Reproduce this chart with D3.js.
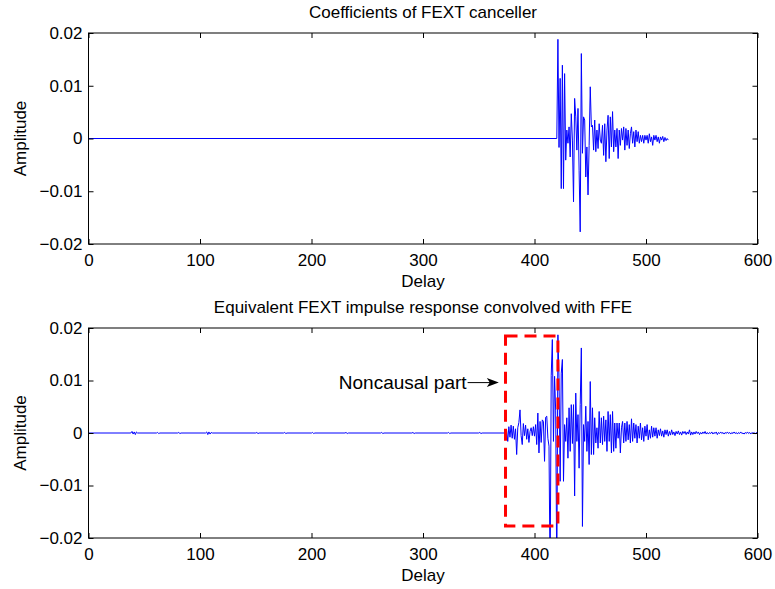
<!DOCTYPE html>
<html>
<head>
<meta charset="utf-8">
<script src="https://cdn.jsdelivr.net/npm/d3@7"></script>
<style>
  html, body { margin: 0; padding: 0; background: #fff; }
  svg { display: block; font-family: "Liberation Sans", Arial, Helvetica, sans-serif; }
</style>
</head>
<body>
<svg id="chart" width="775" height="589"></svg>
<script>
// ---------------- DATA ----------------
const delayTicks = [0, 100, 200, 300, 400, 500, 600];
const ampTicks = [-0.02, -0.01, 0, 0.01, 0.02];
const ampTickLabels = ["\u22120.02", "\u22120.01", "0", "0.01", "0.02"];
const titles = ["Coefficients of FEXT canceller", "Equivalent FEXT impulse response convolved with FFE"];
const xLabel = "Delay";
const yLabel = "Amplitude";

// Top: FEXT canceller coefficients (zero before first tap)
const fextZeroEnd = 420;
const fextStart = 421;
const fextCoeffs = [
  0.0188,-0.0017,0.0114,-0.0095,0.0139,-0.0095,0.0123,-0.0041,0.0016,-0.0009,
  0.0022,-0.0035,0.0047,-0.0003,-0.0120,0.0076,0.0041,-0.0022,0.0057,-0.0060,
  -0.0177,0.0161,-0.0028,0.0041,0.0035,-0.0073,-0.0016,-0.0107,-0.0013,0.0098,
  0.0022,0.0025,-0.0022,0.0035,-0.0025,0.0016,-0.0019,0.0028,-0.0003,-0.0009,
  0.0025,-0.0032,0.0028,-0.0044,0.0016,0.0044,-0.0038,0.0041,-0.0016,0.0051,
  -0.0025,0.0016,-0.0016,0.0019,-0.0038,0.0016,-0.0013,0.0019,-0.0003,0.0022,
  -0.0022,0.0019,-0.0013,0.0016,-0.0019,0.0009,0.0022,-0.0009,0.0013,-0.0016,
  0.0016,-0.0006,0.0013,-0.0009,0.0006,-0.0006,0.0006,-0.0009,0.0006,-0.0003,
  0.0006,-0.0009,0.0009,-0.0006,0.0003,-0.0013,0.0006,-0.0003,0.0006,-0.0006,
  0.0003,-0.0009,0.0003,-0.0003,0.0004,-0.0006,0.0002,-0.0004,0.0000,-0.0003
];

// Bottom: small ripples before the main response [delay, value]
const equivRipples = [
  [0,0],[38,0],[39,0.0003],[40,-0.0002],[41,0.0002],[42,-0.0003],[43,0.0002],[44,0],
  [61,0],[62,0.0001],[63,-0.0001],[64,0],[80,0],[81,0.0001],[82,-0.0001],[83,0],
  [105,0],[106,0.0002],[107,-0.0003],[108,0.0002],[109,-0.0002],[110,0.0001],[111,0],
  [150,0],[151,0.0001],[152,-0.0001],[153,0],[175,0],[176,0.0001],[177,-0.0001],[178,0],
  [200,0],[201,0.0001],[202,-0.0001],[203,0],[230,0],[231,0.0001],[232,-0.0001],[233,0],
  [262,0],[263,0.0001],[264,-0.0001],[265,0],[290,0],[291,0.0001],[292,-0.0001],[293,0],
  [322,0],[323,0.0001],[324,-0.0001],[325,0],[350,0],[351,0.0001],[352,-0.0001],[353,0],
  [374,0]
];
// Bottom: main response, one value per delay starting at 375
const equivStart = 375;
const equivResp = [
  0.0005,-0.0016,0.0012,-0.0008,0.0015,-0.0010,0.0013,-0.0012,0.0008,-0.0041,  // 375
  0.0010,0.0020,0.0044,-0.0005,-0.0022,0.0018,-0.0005,0.0015,-0.0012,0.0008,   // 385
  -0.0018,0.0003,0.0010,-0.0005,0.0012,-0.0006,0.0016,-0.0022,0.0038,-0.0038,  // 395
  0.0022,-0.0018,0.0025,0.0022,-0.0054,0.0030,0.0032,-0.0010,-0.0025,-0.0280,  // 405
  0.0110,0.0178,-0.0016,0.0108,0.0042,-0.0280,0.0187,0.0105,-0.0092,0.0114,    // 415
  0.0140,-0.0092,0.0016,-0.0016,0.0029,-0.0048,0.0048,-0.0035,0.0054,-0.0020,  // 425
  0.0054,-0.0120,0.0076,-0.0016,0.0035,-0.0067,0.0054,0.0162,-0.0178,0.0016,   // 435
  -0.0016,0.0051,-0.0035,0.0022,-0.0060,0.0098,-0.0041,0.0048,-0.0041,0.0029,  // 445
  -0.0019,0.0010,-0.0029,0.0041,-0.0019,0.0029,-0.0022,0.0032,-0.0016,0.0025,  // 455
  -0.0035,0.0041,-0.0016,0.0035,-0.0038,0.0041,-0.0035,0.0019,-0.0029,0.0019,  // 465
  -0.0010,0.0019,-0.0038,0.0010,0.0022,-0.0019,0.0019,-0.0016,0.0022,-0.0013,  // 475
  0.0016,-0.0019,0.0027,-0.0016,0.0019,-0.0010,0.0016,-0.0019,0.0013,-0.0010,  // 485
  0.0019,-0.0013,0.0010,-0.0016,0.0013,-0.0006,0.0016,-0.0013,0.0006,-0.0010,  // 495
  0.0013,-0.0008,0.0010,-0.0006,0.0010,-0.0010,0.0006,-0.0005,0.0008,-0.0006,  // 505
  0.0004,-0.0008,0.0006,-0.0003,0.0006,-0.0006,0.0003,-0.0004,0.0006,-0.0003,  // 515
  0.0002,-0.0005,0.0003,-0.0002,0.0004,-0.0003,0.0002,-0.0004,0.0003,-0.0001,  // 525
  0.0003,-0.0003,0.0002,-0.0002,0.0006,-0.0004,0.0002,-0.0003,0.0002,-0.0002,  // 535
  0.0003,-0.0001,0.0002,-0.0003,0.0001,-0.0002,0.0002,-0.0001,0.0003,-0.0002,  // 545
  0.0001,-0.0002,0.0001,-0.0001,0.0002,-0.0002,0.0001,-0.0001,0.0002,-0.0003,  // 555
  0.0001,-0.0001,0.0002,-0.0001,0.0001,-0.0002,0.0001,-0.0001,0.0002,-0.0001,  // 565
  0.0001,-0.0002,0.0001,-0.0001,0.0002,-0.0001,0.0001,-0.0002,0.0001,-0.0001,  // 575
  0.0002,-0.0001,0.0000,-0.0002,0.0001,-0.0001,0.0002,-0.0001,0.0001,-0.0002,  // 585
  0.0001,-0.0001,0.0001,-0.0002,0.0001,-0.0001                                 // 595
];

// Annotation: noncausal region box (data coords) and label
const noncausalBox = { x0: 374, x1: 421, y0: -0.0177, y1: 0.0185 };
const noncausalLabel = "Noncausal part";
const noncausalArrow = { fromX: 340, toX: 368, y: 0.0096 };

// ---------------- BUILD SERIES ----------------
const topSeries = [[0, 0], [fextZeroEnd, 0]].concat(fextCoeffs.map((v, i) => [fextStart + i, v]));
const bottomSeries = equivRipples.concat(equivResp.map((v, i) => [equivStart + i, v]));

// ---------------- LAYOUT ----------------
const svg = d3.select("#chart");
const left = 88.5, right = 757.5;
const panels = [
  { top: 33, bottom: 244, title: titles[0], series: topSeries },
  { top: 328, bottom: 538, title: titles[1], series: bottomSeries }
];
const x = d3.scaleLinear().domain([0, 600]).range([left, right]);
const fontTick = 17, fontLabel = 17;

panels.forEach((p, idx) => {
  const y = d3.scaleLinear().domain([-0.02, 0.02]).range([p.bottom, p.top]);
  p.y = y;
  const g = svg.append("g");

  const clipId = "clip" + idx;
  svg.append("clipPath").attr("id", clipId)
    .append("rect").attr("x", left).attr("y", p.top)
    .attr("width", right - left).attr("height", p.bottom - p.top);

  // line
  g.append("path")
    .datum(p.series)
    .attr("clip-path", `url(#${clipId})`)
    .attr("fill", "none")
    .attr("stroke", "#0000ff")
    .attr("stroke-width", 1)
    .attr("stroke-linejoin", "round")
    .attr("d", d3.line().x(d => x(d[0])).y(d => y(d[1])));

  // axes with inward ticks
  const tickLen = 5;
  const xb = g.append("g").attr("transform", `translate(0,${p.bottom})`)
    .call(d3.axisBottom(x).tickValues(delayTicks).tickSizeInner(-tickLen).tickSizeOuter(0).tickPadding(10));
  const xt = g.append("g").attr("transform", `translate(0,${p.top})`)
    .call(d3.axisTop(x).tickValues(delayTicks).tickSizeInner(-tickLen).tickSizeOuter(0).tickFormat(""));
  const yl = g.append("g").attr("transform", `translate(${left},0)`)
    .call(d3.axisLeft(y).tickValues(ampTicks).tickSizeInner(-tickLen).tickSizeOuter(0)
      .tickFormat((d, i) => ampTickLabels[i]).tickPadding(6));
  const yr = g.append("g").attr("transform", `translate(${right},0)`)
    .call(d3.axisRight(y).tickValues(ampTicks).tickSizeInner(-tickLen).tickSizeOuter(0).tickFormat(""));

  [xb, xt, yl, yr].forEach(a => {
    a.select(".domain").remove();
    a.selectAll("line").attr("stroke", "#000").attr("stroke-width", 1);
    a.selectAll("text").attr("font-size", fontTick).attr("fill", "#000")
      .attr("font-family", "Liberation Sans, Arial, sans-serif");
  });

  // box
  g.append("rect").attr("x", left).attr("y", p.top)
    .attr("width", right - left).attr("height", p.bottom - p.top)
    .attr("fill", "none").attr("stroke", "#000").attr("stroke-width", 1);

  // title
  g.append("text").attr("x", (left + right) / 2).attr("y", p.top - 15)
    .attr("text-anchor", "middle").attr("font-size", fontLabel).text(p.title);
  // x label
  g.append("text").attr("x", (left + right) / 2).attr("y", p.bottom + 43)
    .attr("text-anchor", "middle").attr("font-size", fontLabel).text(xLabel);
  // y label
  g.append("text")
    .attr("transform", `translate(26,${(p.top + p.bottom) / 2}) rotate(-90)`)
    .attr("text-anchor", "middle").attr("font-size", fontLabel).text(yLabel);
});

// ---------------- ANNOTATION ----------------
const yb = panels[1].y;
svg.append("rect")
  .attr("x", x(noncausalBox.x0)).attr("y", yb(noncausalBox.y1))
  .attr("width", x(noncausalBox.x1) - x(noncausalBox.x0))
  .attr("height", yb(noncausalBox.y0) - yb(noncausalBox.y1))
  .attr("fill", "none").attr("stroke", "#ff0000").attr("stroke-width", 3)
  .attr("stroke-dasharray", "12,7");

const ay = yb(noncausalArrow.y);
const ax0 = x(noncausalArrow.fromX), ax1 = x(noncausalArrow.toX);
svg.append("text").attr("x", ax0 - 1).attr("y", ay).attr("dy", "0.35em")
  .attr("text-anchor", "end").attr("font-size", 19).text(noncausalLabel);
svg.append("line").attr("x1", ax0).attr("x2", ax1 - 8).attr("y1", ay).attr("y2", ay)
  .attr("stroke", "#000").attr("stroke-width", 1);
svg.append("path")
  .attr("d", `M${ax1},${ay} L${ax1 - 12},${ay - 4.5} L${ax1 - 9},${ay} L${ax1 - 12},${ay + 4.5} Z`)
  .attr("fill", "#000");
</script>
</body>
</html>
